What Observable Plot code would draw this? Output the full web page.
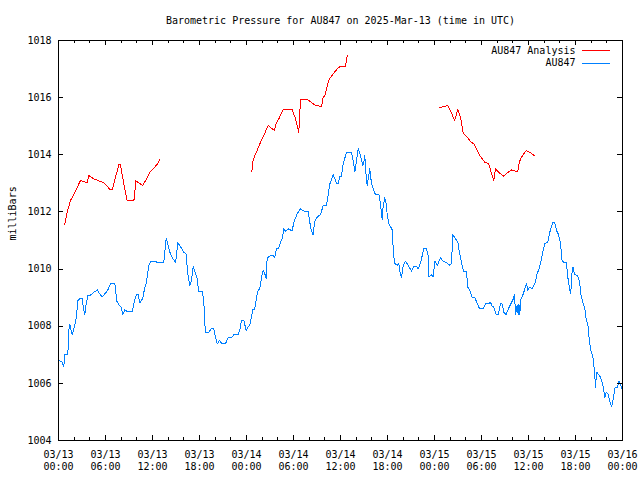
<!DOCTYPE html>
<html><head><meta charset="utf-8">
<script src="https://cdn.jsdelivr.net/npm/d3@7"></script>
<script src="https://cdn.jsdelivr.net/npm/@observablehq/plot@0.6"></script>
<style>
body{margin:0;background:#fff}
svg{display:block}
svg path, svg line, svg rect{shape-rendering:crispEdges}
</style>
</head><body><div id="chart"></div>
<script>
const title = "Barometric Pressure for AU847 on 2025-Mar-13 (time in UTC)";
const yLabel = "milliBars";
const seriesNames = ["AU847 Analysis", "AU847"];
const seriesColors = ["#ff0000", "#0080ff"];
const startUTC = Date.UTC(2025, 2, 13, 0, 0);
const yTicks = [1004, 1006, 1008, 1010, 1012, 1014, 1016, 1018];
const xMajorHours = [0, 6, 12, 18, 24, 30, 36, 42, 48, 54, 60, 66, 72];
const xMinorHours = d3.range(0, 73, 2);

// Analysis series (hours after 03/13 00:00 UTC); null marks a gap
const analysisHours = [0.8,1.1,1.53,1.95,2.81,3.66,3.87,4.5,5.78,6.64,6.85,7.7,7.9,8.34,8.77,9.7,9.83,10.76,11.74,12.6,12.93,
  18,
  24.7,24.72,24.9,25.35,25.79,26.2,26.77,27.28,27.6,27.68,28.13,28.69,29.83,30.26,30.55,30.67,30.77,30.9,31.88,32.39,32.81,33.58,33.79,34.0,34.51,34.94,35.58,35.78,36.64,36.86,
  42,
  48.64,49.19,49.7,50.04,50.56,50.98,51.32,51.66,52.17,52.6,53.02,53.45,53.87,54.42,54.93,55.28,55.57,55.79,56.21,56.77,57.28,57.8,58.64,58.77,58.98,59.7,60.26,60.81];
const analysisValues = [1011.55,1011.99,1012.4,1012.61,1013.1,1013.02,1013.27,1013.16,1013.02,1012.77,1012.77,1013.65,1013.65,1012.98,1012.4,1012.42,1013.1,1012.92,1013.42,1013.66,1013.83,
  null,
  1013.39,1013.63,1013.86,1014.15,1014.44,1014.67,1015.03,1014.91,1014.85,1015.03,1015.26,1015.58,1015.58,1015.26,1014.94,1014.76,1015.32,1015.92,1015.92,1015.81,1015.73,1015.69,1016.02,1016.07,1016.62,1016.78,1017.01,1017.07,1017.09,1017.47,
  null,
  1015.64,1015.69,1015.72,1015.55,1015.2,1015.58,1015.32,1014.76,1014.62,1014.46,1014.38,1014.15,1013.94,1013.74,1013.68,1013.33,1013.1,1013.51,1013.39,1013.25,1013.36,1013.47,1013.41,1013.66,1013.86,1014.15,1014.07,1013.96];

// Observed series
const obsHours = [0.05,0.45,0.68,0.8,1.19,1.32,1.45,1.6,1.75,2.08,2.3,2.47,2.81,3.02,3.23,3.36,3.53,3.74,4.21,4.5,4.7,4.94,5.27,5.58,6.0,6.3,6.64,7.15,7.28,7.4,7.7,8.0,8.21,8.47,8.77,9.41,9.7,9.96,10.17,10.38,10.76,10.98,11.23,11.53,11.83,12.38,12.6,13.44,13.53,13.75,13.95,14.3,14.51,14.81,14.94,15.23,15.57,16.0,16.3,16.5,16.76,16.97,17.2,17.49,17.7,17.91,18.34,18.55,18.64,18.77,19.19,19.5,19.83,20.04,20.26,20.55,20.9,21.32,21.61,22.17,22.38,22.94,23.15,23.36,23.66,23.96,24.22,24.42,24.6,24.8,25.06,25.28,25.49,25.7,25.92,26.13,26.34,26.51,26.64,27.07,27.4,27.6,27.83,28.13,28.34,28.56,28.77,28.98,29.4,29.83,30.04,30.26,30.47,30.9,31.32,31.88,32.04,32.26,32.51,32.68,33.03,33.45,33.79,34.21,34.38,34.64,35.07,35.49,35.7,35.91,36.1,36.34,36.77,37.4,37.62,37.83,38.04,38.26,38.55,38.85,38.98,39.1,39.28,39.4,39.61,39.74,39.96,40.25,40.47,40.9,41.11,41.32,41.45,41.66,41.84,41.96,42.17,42.39,42.6,42.72,42.89,43.23,43.44,43.66,43.79,43.99,44.29,44.72,45.07,45.36,45.7,45.91,46.21,46.64,46.98,47.2,47.28,47.58,47.83,48.05,48.34,48.77,49.06,49.62,49.96,50.17,50.34,50.68,50.98,51.1,51.32,51.53,51.74,52.09,52.25,52.51,52.81,53.15,53.45,53.75,54.22,54.51,54.93,55.15,55.37,55.57,55.88,56.13,56.43,56.64,56.85,57.15,57.37,57.7,58.01,58.22,58.34,58.55,58.68,58.77,58.9,58.98,59.33,59.54,59.75,59.91,60.13,60.47,60.9,61.11,61.3,61.62,61.83,62.09,62.47,62.72,62.94,63.11,63.36,63.58,63.79,64.0,64.17,64.3,64.81,64.94,65.07,65.24,65.37,65.47,65.56,65.69,65.86,66.2,66.41,66.54,66.72,66.98,67.19,67.37,67.57,67.79,68.0,68.22,68.43,68.56,68.69,68.9,69.19,69.41,69.62,69.75,69.92,70.15,70.37,70.62,70.85,71.06,71.36,71.57,71.79,71.92];
const obsValues = [1006.8,1006.75,1006.59,1007.0,1007.0,1007.85,1008.08,1007.85,1007.71,1008.02,1008.37,1008.9,1008.98,1008.98,1008.55,1008.41,1008.78,1009.07,1009.1,1009.19,1009.21,1009.28,1009.13,1009.02,1009.16,1009.27,1009.5,1009.5,1009.37,1008.9,1008.76,1008.67,1008.41,1008.58,1008.51,1008.51,1008.9,1009.1,1009.1,1008.81,1008.98,1009.31,1009.54,1010.12,1010.28,1010.28,1010.22,1010.22,1010.47,1011.09,1010.88,1010.51,1010.41,1010.28,1010.22,1010.92,1010.79,1010.59,1010.53,1009.83,1009.42,1009.6,1010.1,1009.83,1009.66,1009.21,1009.21,1008.9,1008.2,1007.79,1007.79,1007.91,1007.91,1007.62,1007.38,1007.5,1007.38,1007.38,1007.59,1007.62,1007.7,1007.7,1007.87,1008.2,1008.2,1007.85,1007.99,1008.02,1008.29,1008.57,1008.61,1009.02,1009.25,1009.31,1009.72,1009.95,1009.83,1009.68,1010.39,1010.47,1010.47,1010.39,1010.71,1010.74,1010.94,1011.06,1011.41,1011.33,1011.41,1011.33,1011.64,1011.79,1011.93,1012.11,1012.03,1012.03,1011.7,1011.35,1011.2,1011.64,1011.82,1011.91,1012.22,1012.22,1012.52,1012.98,1013.31,1013.0,1013.0,1013.24,1013.24,1013.68,1014.09,1014.09,1013.8,1013.41,1013.8,1014.21,1013.98,1013.62,1013.74,1013.98,1013.22,1012.93,1013.27,1013.51,1012.98,1012.75,1012.6,1012.6,1012.28,1011.72,1012.22,1012.49,1012.28,1011.91,1011.58,1011.49,1011.37,1010.77,1010.21,1010.13,1010.21,1009.77,1009.72,1010.09,1010.28,1010.09,1009.93,1010.09,1010.09,1010.01,1010.21,1010.71,1010.71,1010.47,1009.72,1009.81,1009.72,1010.28,1010.12,1010.39,1010.28,1010.21,1010.13,1010.2,1011.21,1011.06,1010.94,1010.71,1010.42,1010.12,1009.91,1009.91,1009.37,1009.25,1009.02,1008.99,1008.81,1008.61,1008.61,1008.78,1008.78,1008.84,1008.69,1008.67,1008.41,1008.41,1008.78,1008.78,1008.49,1008.41,1008.57,1008.76,1008.92,1009.11,1008.41,1008.72,1008.41,1008.78,1008.41,1008.92,1009.13,1009.31,1009.5,1009.25,1009.37,1009.3,1009.55,1009.87,1009.95,1010.3,1010.59,1010.9,1010.94,1011.29,1011.5,1011.62,1011.62,1011.35,1011.23,1011.02,1010.67,1010.26,1010.22,1009.95,1009.6,1009.31,1009.13,1009.42,1009.89,1010.07,1009.83,1009.77,1009.69,1009.48,1009.07,1008.78,1008.64,1008.22,1008.08,1007.44,1007.09,1006.94,1006.39,1005.87,1006.39,1006.33,1006.21,1006.04,1005.75,1005.49,1005.69,1005.63,1005.38,1005.19,1005.51,1005.87,1005.87,1006.08,1005.93,1005.81];

const toDate = h => new Date(startUTC + h * 3600e3);
const analysis = analysisHours.map((h, i) => ({t: toDate(h), v: analysisValues[i]}));
const obs = obsHours.map((h, i) => ({t: toDate(h), v: obsValues[i]}));
const majorDates = xMajorHours.map(toDate);
const minorDates = xMinorHours.map(toDate);

const W = 640, H = 480, mL = 58, mR = 18, mT = 40, mB = 40;
const fw = W - mL - mR, fh = H - mT - mB;
const font = "'DejaVu Sans Mono', 'Liberation Mono', monospace";
const legendDx = -47, legendDy0 = 10, legendStep = 12.5;

const chart = Plot.plot({
  width: W, height: H,
  marginLeft: mL, marginRight: mR, marginTop: mT, marginBottom: mB,
  style: {fontFamily: font, fontSize: "10px", background: "white", color: "black", overflow: "visible"},
  x: {type: "utc", domain: [toDate(0), toDate(72)]},
  y: {domain: [1004, 1018]},
  marks: [
    Plot.line(analysis, {x: "t", y: "v", stroke: seriesColors[0], strokeWidth: 1}),
    Plot.line(obs, {x: "t", y: "v", stroke: seriesColors[1], strokeWidth: 1}),
    Plot.frame({stroke: "black", strokeWidth: 1}),
    // inward ticks (mirrored on all sides)
    Plot.ruleY(yTicks, {stroke: "black", insetRight: fw - 5}),
    Plot.ruleY(yTicks, {stroke: "black", insetLeft: fw - 5}),
    Plot.ruleX(minorDates, {stroke: "black", insetTop: fh - 3}),
    Plot.ruleX(minorDates, {stroke: "black", insetBottom: fh - 3}),
    Plot.ruleX(majorDates, {stroke: "black", insetTop: fh - 5}),
    Plot.ruleX(majorDates, {stroke: "black", insetBottom: fh - 5}),
    // tick labels
    Plot.axisY({ticks: yTicks, tickSize: 0, tickPadding: 7, label: null, tickFormat: d => String(d)}),
    Plot.axisX({ticks: majorDates, tickSize: 0, tickPadding: 10, label: null, tickFormat: d3.utcFormat("%m/%d")}),
    Plot.axisX({ticks: majorDates, tickSize: 0, tickPadding: 22, label: null, tickFormat: d3.utcFormat("%H:%M")}),
    // title & y label
    Plot.text([title], {text: d => d, frameAnchor: "top", lineAnchor: "middle", dy: -20, fill: "black"}),
    Plot.text([yLabel], {text: d => d, frameAnchor: "left", dx: -46, rotate: -90, fill: "black"}),
    // legend labels
    Plot.text([seriesNames[0]], {text: d => d, frameAnchor: "top-right", lineAnchor: "middle", textAnchor: "end", dx: legendDx, dy: legendDy0, fill: "black"}),
    Plot.text([seriesNames[1]], {text: d => d, frameAnchor: "top-right", lineAnchor: "middle", textAnchor: "end", dx: legendDx, dy: legendDy0 + legendStep, fill: "black"})
  ]
});
document.getElementById("chart").appendChild(chart);

// legend sample lines
const svg = d3.select(chart);
const legendX2 = W - mR - 12, legendX1 = legendX2 - 28;
seriesColors.forEach((c, i) => {
  const yy = Math.round(mT + legendDy0 + i * legendStep) + 0.5;
  svg.append("line")
    .attr("x1", legendX1).attr("x2", legendX2)
    .attr("y1", yy).attr("y2", yy)
    .attr("stroke", c).attr("stroke-width", 1);
});
</script>
</body></html>
